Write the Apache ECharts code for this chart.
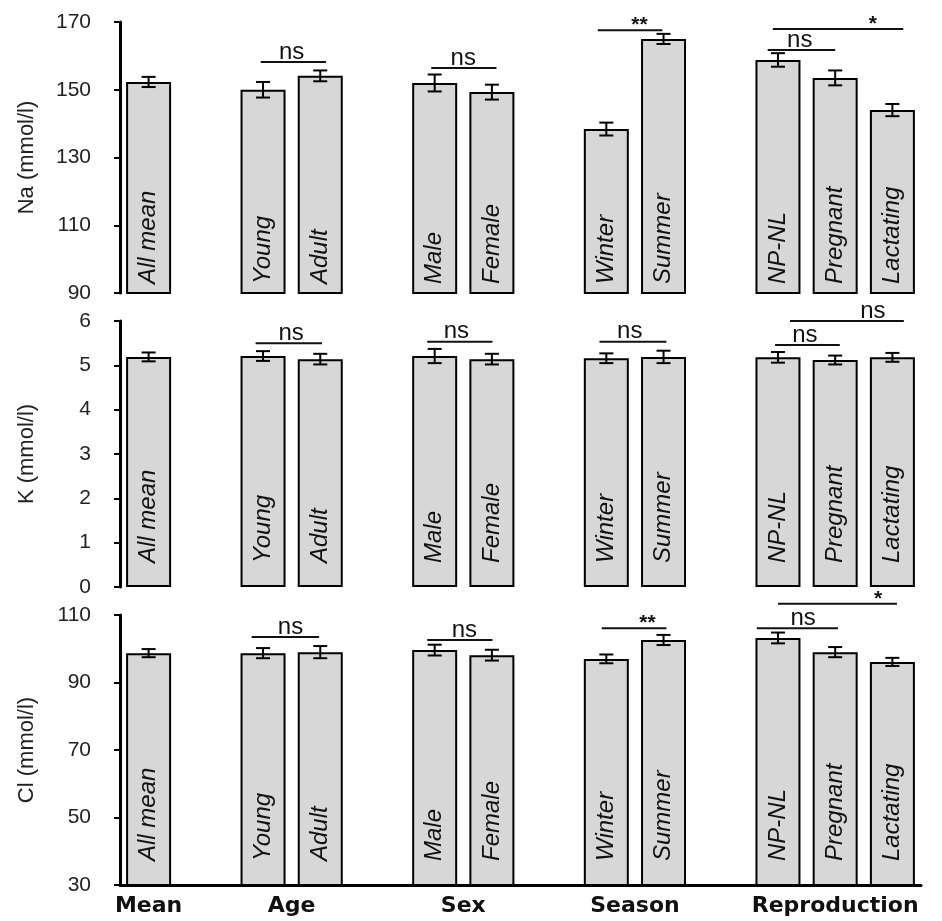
<!DOCTYPE html>
<html>
<head>
<meta charset="utf-8">
<script src="https://cdn.jsdelivr.net/npm/echarts@6/dist/echarts.min.js"></script>
<style>html,body{margin:0;padding:0;background:#fff;}#c{width:942px;height:921px;}</style>
</head>
<body>
<div id="c"></div>
<script>
// ---- data ----
const barNames = ['All mean','Young','Adult','Male','Female','Winter','Summer','NP-NL','Pregnant','Lactating'];
const barSlots = [0,2,3,5,6,8,9,11,12,13];
const groupNames = ['Mean','Age','Sex','Season','Reproduction'];
const groupPos = [0,2.5,5.5,8.5,12];

const naMean = [152.3,150.0,154.1,152.0,149.3,138.4,165.0,158.8,153.5,144.0];
const naErr  = [1.5,2.3,1.6,2.5,2.2,1.9,1.5,2.0,2.2,1.8];
const kMean  = [5.19,5.21,5.14,5.21,5.14,5.16,5.19,5.18,5.12,5.18];
const kErr   = [0.10,0.11,0.12,0.16,0.12,0.11,0.14,0.12,0.10,0.10];
const clMean = [98.7,98.7,99.0,99.6,98.1,97.0,102.6,103.2,99.0,96.1];
const clErr  = [1.2,1.5,1.8,1.6,1.6,1.3,1.5,1.6,1.5,1.2];

const naTicks = [90,110,130,150,170];
const kTicks  = [0,1,2,3,4,5,6];
const clTicks = [30,50,70,90,110];

// significance brackets: [fromSlot, toSlot, height, textSlot]
const naBr = [[1.96,3.10,158.2,2.5],[4.94,6.08,156.4,5.5],[7.85,8.98,167.6,8.58],[10.91,13.19,167.9,12.66],[10.82,12.0,161.7,11.38]];
const naBrText = ['ns','ns','**','*','ns'];
const kBr = [[1.87,3.03,5.50,2.49],[4.87,6.01,5.53,5.38],[7.88,9.05,5.53,8.41],[10.95,12.08,5.46,11.47],[11.21,13.2,6.0,12.66]];
const kBrText = ['ns','ns','ns','ns','ns'];
const clBr = [[1.80,2.98,103.5,2.48],[4.87,6.01,102.6,5.52],[7.92,9.05,106.1,8.72],[10.63,12.05,106.1,11.44],[11.0,13.08,113.3,12.75]];
const clBrText = ['ns','ns','**','ns','*'];

// ---- chart ----
const chart = echarts.init(document.getElementById('c'), null, {renderer:'canvas'});
const FONT = '"Liberation Sans", Arial, sans-serif';

const grids = [
  {left:120, right:21, top:22, bottom:628},
  {left:120, right:21, top:321, bottom:334},
  {left:120, right:21, top:615, bottom:36}
];

function xAxisFor(i){
  const base = {gridIndex:i, type:'value', min:-0.5, max:13.5, interval:0.5, splitLine:{show:false}};
  if (i < 2) return Object.assign(base, {show:false});
  return Object.assign(base, {
    axisLine:{show:true, onZero:false, lineStyle:{color:'#000', width:3}},
    axisTick:{show:false},
    axisLabel:{show:true, margin:10, color:'#111', fontFamily:'"DejaVu Sans", sans-serif', fontWeight:'bold', fontSize:22,
      formatter:function(v){ for(let k=0;k<groupPos.length;k++){ if(Math.abs(v-groupPos[k])<1e-6) return groupNames[k]; } return ''; }}
  });
}
function yAxisFor(i, name, ticks){
  return {gridIndex:i, type:'value', min:ticks[0], max:ticks[ticks.length-1], interval:ticks[1]-ticks[0],
    name:name, nameLocation:'middle', nameGap:82, nameRotate:90,
    nameTextStyle:{fontFamily:FONT, fontSize:22, color:'#222'},
    axisLine:{show:true, onZero:false, lineStyle:{color:'#000', width:3}},
    axisTick:{show:true, inside:false, length:6, lineStyle:{color:'#000', width:2}},
    axisLabel:{margin:29, fontFamily:FONT, fontSize:21, color:'#222'},
    splitLine:{show:false}};
}
function barSeries(i, means, start, dist){
  return {type:'bar', xAxisIndex:i, yAxisIndex:i, barWidth:45, startValue:start,
    data: barSlots.map((s,j)=>({name:barNames[j], value:[s, means[j]]})),
    itemStyle:{color:'#d7d7d7', borderColor:'#000', borderWidth:2},
    label:{show:true, position:'insideBottom', rotate:90, align:'left', verticalAlign:'middle', distance:dist,
      formatter:'{b}', fontFamily:FONT, fontStyle:'italic', fontSize:24, color:'#111'},
    silent:true, animation:false, z:2};
}
function errSeries(i, means, errs){
  return {type:'custom', xAxisIndex:i, yAxisIndex:i, animation:false, silent:true, z:5,
    data: barSlots.map((s,j)=>[s, means[j]-errs[j], means[j]+errs[j]]),
    encode:{x:0, y:[1,2]},
    renderItem:function(params, api){
      const x = api.value(0);
      const lo = api.coord([x, api.value(1)]), hi = api.coord([x, api.value(2)]);
      const w = 7, st = {stroke:'#000', lineWidth:2};
      return {type:'group', children:[
        {type:'line', shape:{x1:lo[0], y1:lo[1], x2:hi[0], y2:hi[1]}, style:st},
        {type:'line', shape:{x1:lo[0]-w, y1:lo[1], x2:lo[0]+w, y2:lo[1]}, style:st},
        {type:'line', shape:{x1:hi[0]-w, y1:hi[1], x2:hi[0]+w, y2:hi[1]}, style:st}
      ]};
    }};
}
function bracketSeries(i, br, texts){
  return {type:'custom', xAxisIndex:i, yAxisIndex:i, animation:false, silent:true, clip:false, z:6,
    data: br, encode:{x:[0,1], y:2},
    renderItem:function(params, api){
      const y = api.value(2);
      const p1 = api.coord([api.value(0), y]), p2 = api.coord([api.value(1), y]), pt = api.coord([api.value(3), y]);
      const t = texts[params.dataIndex];
      const star = t.indexOf('*') >= 0;
      return {type:'group', children:[
        {type:'line', shape:{x1:p1[0], y1:p1[1], x2:p2[0], y2:p2[1]}, style:{stroke:'#111', lineWidth:2}},
        {type:'text', x:pt[0], y:p1[1] + (star ? 6 : 2), style:{text:t, fill:'#111',
          font: star ? ('bold 21px ' + FONT) : ('24px ' + FONT), textAlign:'center', textVerticalAlign:'bottom'}}
      ]};
    }};
}

chart.setOption({
  backgroundColor:'#ffffff',
  animation:false,
  grid: grids,
  xAxis: [xAxisFor(0), xAxisFor(1), xAxisFor(2)],
  yAxis: [yAxisFor(0,'Na (mmol/l)',naTicks), yAxisFor(1,'K (mmol/l)',kTicks), yAxisFor(2,'Cl (mmol/l)',clTicks)],
  series: [
    barSeries(0, naMean, 90, 10), errSeries(0, naMean, naErr), bracketSeries(0, naBr, naBrText),
    barSeries(1, kMean, 0, 24), errSeries(1, kMean, kErr), bracketSeries(1, kBr, kBrText),
    barSeries(2, clMean, 30, 25), errSeries(2, clMean, clErr), bracketSeries(2, clBr, clBrText)
  ]
});
</script>
</body>
</html>
